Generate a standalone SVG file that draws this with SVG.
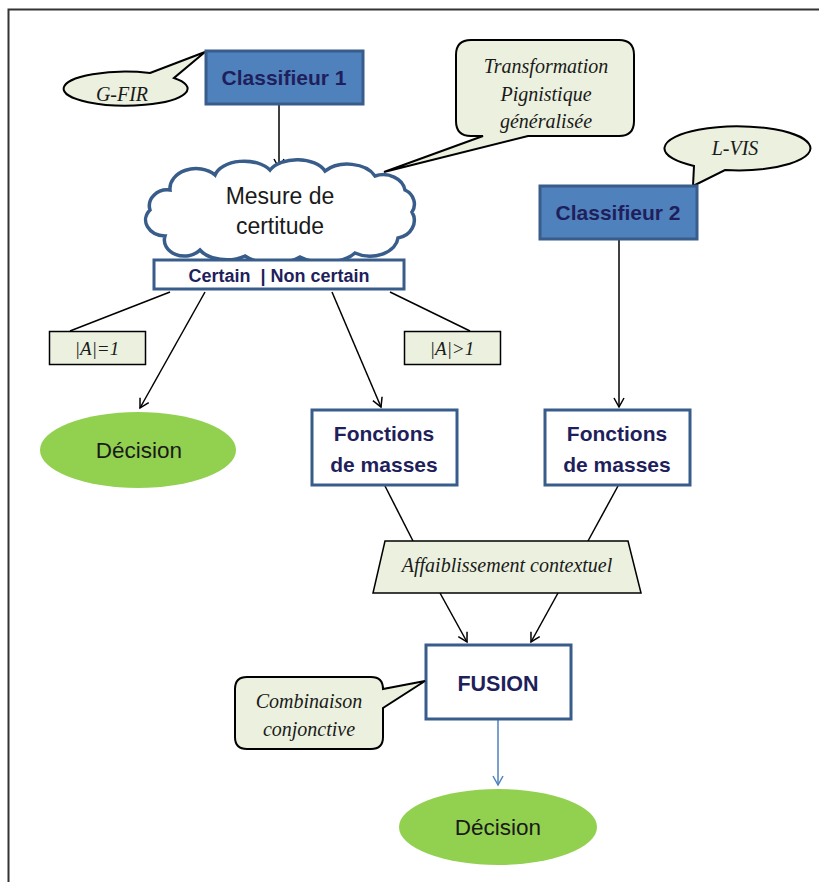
<svg xmlns="http://www.w3.org/2000/svg" width="819" height="882" viewBox="0 0 819 882">
<defs>
<marker id="arr" markerWidth="12" markerHeight="12" refX="10" refY="6" orient="auto" markerUnits="userSpaceOnUse">
<path d="M1,1 L10,6 L1,11" fill="none" stroke="#000" stroke-width="1.5"/>
</marker>
<marker id="arrb" markerWidth="12" markerHeight="12" refX="10" refY="6" orient="auto" markerUnits="userSpaceOnUse">
<path d="M1,1 L10,6 L1,11" fill="none" stroke="#4f81bd" stroke-width="1.5"/>
</marker>
</defs>
<style>
.cls{fill:#4f81bd;stroke:#385d8a;stroke-width:3}
.box{fill:#fff;stroke:#385d8a;stroke-width:3}
.note{fill:#ebf1de;stroke:#000;stroke-width:2}
.dec{fill:#92d050;stroke:none}
.bt{font-family:"Liberation Sans",Arial,sans-serif;font-weight:bold;fill:#1f1f5c;text-anchor:middle}
.nt{font-family:"Liberation Sans",Arial,sans-serif;fill:#1a1a1a;text-anchor:middle}
.it{font-family:"Liberation Serif","Times New Roman",serif;font-style:italic;fill:#1a1a1a;text-anchor:middle}
.ln{stroke:#000;stroke-width:1.5;fill:none}
</style>
<rect width="819" height="882" fill="#fff"/>
<path d="M8.5,882 V9.5 H819" fill="none" stroke="#333" stroke-width="2"/>

<g id="connectors">
<line class="ln" x1="279" y1="104" x2="279" y2="168" marker-end="url(#arr)"/>
<line class="ln" x1="170" y1="292" x2="70" y2="331"/>
<line class="ln" x1="205" y1="292" x2="140" y2="408" marker-end="url(#arr)"/>
<line class="ln" x1="332" y1="292" x2="381" y2="407" marker-end="url(#arr)"/>
<line class="ln" x1="390" y1="292" x2="470" y2="331"/>
<line class="ln" x1="619" y1="239" x2="619" y2="407" marker-end="url(#arr)"/>
<line class="ln" x1="385" y1="486" x2="413" y2="541"/>
<line class="ln" x1="618" y1="486" x2="588" y2="541"/>
<line class="ln" x1="440" y1="593" x2="467" y2="642" marker-end="url(#arr)"/>
<line class="ln" x1="558" y1="593" x2="531" y2="642" marker-end="url(#arr)"/>
<line x1="498" y1="720" x2="498" y2="785" stroke="#4f81bd" stroke-width="1.5" marker-end="url(#arrb)"/>
</g>

<g id="gfir">
<path class="note" d="M150,73 L205,52 L174,78 A62 17 0 1 1 150,73 Z"/>
<text class="it" x="122" y="101" font-size="20">G-FIR</text>
</g>

<g id="classifieur1">
<rect class="cls" x="206" y="51" width="157" height="53"/>
<text class="bt" x="284" y="85" font-size="21">Classifieur 1</text>
</g>

<g id="transformation">
<path class="note" d="M471,40 H619 Q634,40 634,55 V121 Q634,136 619,136 H528 L384,172 L483,136 H471 Q456,136 456,121 V55 Q456,40 471,40 Z"/>
<text class="it" x="546" y="73" font-size="20">Transformation</text>
<text class="it" x="546" y="101" font-size="20">Pignistique</text>
<text class="it" x="546" y="128" font-size="20">généralisée</text>
</g>

<g id="lvis">
<path class="note" d="M694,166 L693,186 L725,170 A73 22 0 1 0 694,166 Z"/>
<text class="it" x="735" y="155" font-size="20">L-VIS</text>
</g>

<g id="classifieur2">
<rect class="cls" x="540" y="186" width="157" height="53"/>
<text class="bt" x="618" y="220" font-size="21">Classifieur 2</text>
</g>

<g id="mesure">
<path d="M165,236 A20 16 0 0 1 150,210 A18 16 0 0 1 170,190 A26 20 0 0 1 215,175 A30 18 0 0 1 270,170 A30 18 0 0 1 325,171 A30 20 0 0 1 375,176 A22 18 0 0 1 405,190 A18 16 0 0 1 412,212 A20 18 0 0 1 398,238 A28 20 0 0 1 355,253 A35 18 0 0 1 300,257 A35 18 0 0 1 245,256 A30 18 0 0 1 200,250 A20 16 0 0 1 165,236 Z" fill="#fff" stroke="#385d8a" stroke-width="3.5"/>
<text class="nt" x="280" y="204" font-size="23">Mesure de</text>
<text class="nt" x="280" y="234" font-size="23">certitude</text>
</g>

<g id="certain">
<rect class="box" x="154" y="260" width="250" height="29"/>
<text class="bt" x="279" y="282" font-size="18" xml:space="preserve">Certain  | Non certain</text>
</g>

<g id="a1">
<rect x="49.5" y="331.5" width="96" height="33" fill="#ebf1de" stroke="#000" stroke-width="1.5"/>
<text class="it" x="97" y="355" font-size="19">|A|=1</text>
</g>

<g id="ag1">
<rect x="404.5" y="331.5" width="96" height="33" fill="#ebf1de" stroke="#000" stroke-width="1.5"/>
<text class="it" x="452" y="355" font-size="19">|A|&gt;1</text>
</g>

<g id="decision1">
<ellipse class="dec" cx="138" cy="450" rx="98" ry="38"/>
<text class="nt" x="139" y="458" font-size="22.5">Décision</text>
</g>

<g id="fonctions1">
<rect class="box" x="312" y="410" width="145" height="75"/>
<text class="bt" x="384" y="441" font-size="21">Fonctions</text>
<text class="bt" x="384" y="472" font-size="21">de masses</text>
</g>

<g id="fonctions2">
<rect class="box" x="545" y="410" width="145" height="75"/>
<text class="bt" x="617" y="441" font-size="21">Fonctions</text>
<text class="bt" x="617" y="472" font-size="21">de masses</text>
</g>

<g id="affaiblissement">
<polygon points="385,541 628,541 641,593 373,593" fill="#ebf1de" stroke="#000" stroke-width="1.5"/>
<text class="it" x="507" y="572" font-size="20">Affaiblissement contextuel</text>
</g>

<g id="fusion">
<rect class="box" x="426" y="645" width="145" height="74"/>
<text class="bt" x="498" y="691" font-size="21.5">FUSION</text>
</g>

<g id="combinaison">
<path class="note" d="M247,677 H371 Q383,677 383,689 L425,681 L383,708 V737 Q383,749 371,749 H247 Q235,749 235,737 V689 Q235,677 247,677 Z"/>
<text class="it" x="309" y="708" font-size="20">Combinaison</text>
<text class="it" x="309" y="736" font-size="20">conjonctive</text>
</g>

<g id="decision2">
<ellipse class="dec" cx="498" cy="827" rx="99" ry="38"/>
<text class="nt" x="498" y="835" font-size="22.5">Décision</text>
</g>
</svg>
